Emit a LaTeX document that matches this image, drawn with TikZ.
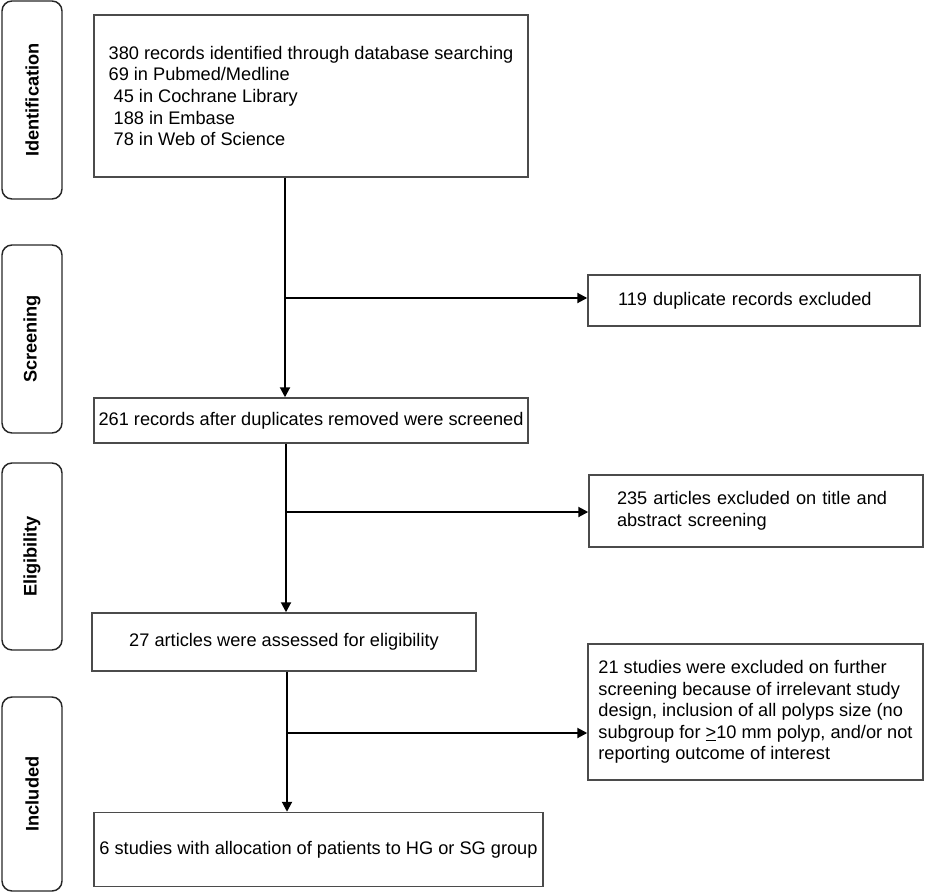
\documentclass[tikz,border=0pt]{standalone}
\usepackage{fontspec}
\setmainfont{Liberation Sans}
\usetikzlibrary{arrows.meta}
\definecolor{boxgray}{RGB}{75,75,75}
\newcommand\fs{\fontsize{13.65pt}{16.2pt}\selectfont}
\begin{document}
\begin{tikzpicture}[x=0.75pt,y=-0.75pt,
  box/.style={draw=boxgray, line width=1.1pt, inner sep=0pt, font=\fs},
  side/.style={draw=black!85, line width=1.1pt, rounded corners=7.5pt, minimum width=45pt, font=\fs\bfseries, inner sep=0pt},
  arr/.style={line width=1.5pt, -{Triangle[length=7.5pt,width=7.5pt]}}]
\useasboundingbox (0,0) rectangle (926,892);
% side labels
\node[side, minimum height=148.5pt] (sI) at (32,100) {\rotatebox{90}{Identification}};
\node[side, minimum height=141pt] (sS) at (32,339) {\rotatebox{90}{Screening}};
\node[side, minimum height=140.25pt] (sE) at (32,556.5) {\rotatebox{90}{Eligibility}};
\node[side, minimum height=145.5pt] (sN) at (32,794) {\rotatebox{90}{Included}};
% main boxes
\node[box, minimum width=325.5pt, minimum height=121.5pt, align=left] (b1) at (311,96)
  {380 records identified through database searching\\69 in Pubmed/Medline\\\hspace*{3.8pt}45 in Cochrane Library\\\hspace*{3.8pt}188 in Embase\\\hspace*{3.8pt}78 in Web of Science};
\node[box, minimum width=325.5pt, minimum height=33.75pt] (b2) at (311,420.5)
  {261 records after duplicates removed were screened};
\node[box, minimum width=288pt, minimum height=43.5pt] (b3) at (284,642)
  {27 articles were assessed for eligibility};
\node[box, minimum width=336.75pt, minimum height=55.5pt] (b4) at (318.5,849.5)
  {6 studies with allocation of patients to HG or SG group};
% right boxes
\node[box, minimum width=249pt, minimum height=38.25pt, text width=204pt, align=left] (r1) at (754,300.5)
  {119 duplicate records excluded};
\node[box, minimum width=250.5pt, minimum height=54pt, text width=208.5pt, align=left] (r2) at (756,511)
  {235 articles excluded on title and\\abstract screening};
\node[box, minimum width=251.25pt, minimum height=102pt, align=left] (r3) at (755.5,712)
  {21 studies were excluded on further\\screening because of irrelevant study\\design, inclusion of all polyps size (no\\subgroup for \underline{>}10 mm polyp, and/or not\\reporting outcome of interest};
% connectors
\coordinate (j1) at (285,298);
\coordinate (j2) at (286,512);
\coordinate (j3) at (287,733);
\draw[arr] (b1.south -| j1) -- (b2.north -| j1);
\draw[arr] (j1) -- (j1 -| r1.west);
\draw[arr] (b2.south -| j2) -- (b3.north -| j2);
\draw[arr] (j2) -- (j2 -| r2.west);
\draw[arr] (b3.south -| j3) -- (b4.north -| j3);
\draw[arr] (j3) -- (j3 -| r3.west);
\end{tikzpicture}
\end{document}
